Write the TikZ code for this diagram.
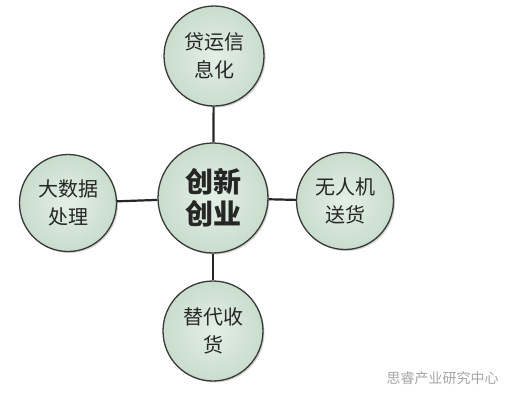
\documentclass[tikz,border=0pt]{standalone}
\usepackage{fontspec}
\newfontfamily\cjk{Noto Sans CJK SC}
\usetikzlibrary{positioning, shadows}
\definecolor{bubblein}{HTML}{E4EFE6}
\definecolor{bubbleout}{HTML}{C9DDCD}
\definecolor{bubbleline}{HTML}{3A3A3A}

\begin{document}
\begin{tikzpicture}[x=1pt, y=-1pt,
	bubble/.style={circle, draw=bubbleline, line width=1.3pt, inner color=bubblein, outer color=bubbleout,
		minimum size=100pt, inner sep=0pt, align=center, text=black!85,
		font=\cjk\fontsize{20}{28}\selectfont,
		drop shadow={shadow xshift=1.5pt, shadow yshift=-1.5pt, fill=black!35}},
	hub/.style={bubble, minimum size=110pt, font=\cjk\bfseries\fontsize{28}{32}\selectfont},
	link/.style={line width=2.2pt, black!85}]
	
	% Frame
	\useasboundingbox[fill=white] (0,0) rectangle (523,400);
	
	% Centre
	\node[hub] (core) at (213,198) {创新\\创业};
	
	% Outer bubbles
	\node[bubble] (freight) at (214,56) {贷运信\\息化};
	\node[bubble, minimum size=97pt] (bigdata) at (68,203) {大数据\\处理};
	\node[bubble, minimum size=97pt] (drone) at (345,201) {无人机\\送货};
	\node[bubble] (receive) at (213,331) {替代收\\货};
	
	% Links
	\draw[link] (core) -- (freight);
	\draw[link] (core) -- (bigdata);
	\draw[link] (core) -- (drone);
	\draw[link] (core) -- (receive);
	
	% Watermark
	\node[font=\cjk\fontsize{14}{16}\selectfont, text=black!35, anchor=west] (mark) at (383,378) {思睿产业研究中心};
	
\end{tikzpicture}
\end{document}
